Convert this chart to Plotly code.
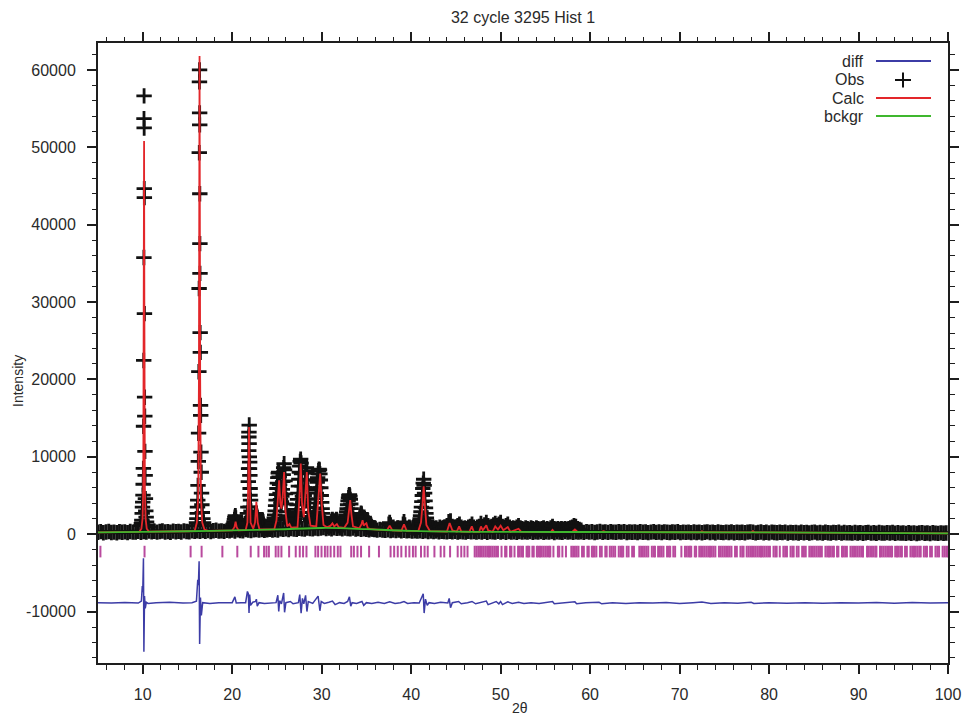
import plotly.graph_objects as go

# ------------------------------------------------------------------ data
# background (bckgr)
bckgr_tth = [5, 10, 15, 20, 25, 30, 32, 35, 40, 45, 50, 60, 70, 80, 90, 100]
bckgr_int = [230, 300, 380, 480, 620, 800, 780, 650, 420, 320, 290, 280, 250, 220, 170, 110]

# observed intensities, coarse scan over the whole range (start 5.0, step 0.3)
obs_scan_start = 5.0
obs_scan_step = 0.3
obs_scan_int = [
    250, 330, 190, 280, 340, 210, 270, 180, 320, 240, 300, 200, 350, 260, 290, 380, 240, 330, 270, 410,
    300, 380, 260, 350, 410, 290, 330, 250, 390, 320, 360, 280, 420, 340, 300, 450, 380, 420, 360, 470,
    380, 470, 350, 440, 500, 390, 430, 360, 490, 450, 520, 410, 560, 480, 440, 600, 520, 470, 560, 600,
    520, 610, 490, 580, 640, 540, 600, 530, 680, 620, 700, 590, 740, 660, 620, 760, 700, 650, 780, 720,
    690, 800, 720, 780, 850, 730, 790, 700, 820, 760, 800, 690, 790, 730, 700, 780, 660, 720, 640, 700,
    630, 560, 650, 590, 520, 610, 540, 500, 580, 480, 540, 460, 520, 440, 500, 420, 480, 400, 450, 390,
    440, 370, 420, 350, 400, 330, 390, 310, 370, 340, 300, 380, 320, 360, 290, 350, 310, 280, 360, 300,
    330, 260, 350, 290, 380, 250, 340, 300, 270, 360, 290, 330, 250, 340, 280, 310, 240, 330, 280, 300,
    260, 330, 230, 310, 280, 350, 240, 300, 270, 340, 220, 310, 290, 250, 330, 270, 300, 240, 320, 260,
    300, 230, 330, 260, 310, 220, 290, 340, 250, 300, 230, 320, 270, 240, 310, 260, 330, 220, 290, 250,
    280, 220, 310, 240, 290, 200, 270, 320, 230, 280, 210, 300, 250, 220, 290, 240, 310, 200, 270, 230,
    260, 200, 290, 220, 270, 190, 250, 300, 210, 260, 190, 280, 230, 200, 270, 220, 290, 180, 250, 210,
    240, 180, 270, 300, 250, 170, 230, 280, 190, 240, 170, 260, 210, 180, 250, 200, 270, 160, 230, 190,
    220, 160, 250, 180, 230, 150, 210, 260, 170, 220, 150, 240, 190, 160, 230, 180, 250, 140, 210, 170,
    190, 130, 220, 150, 200, 120, 180, 230, 140, 190, 120, 210, 160, 130, 200, 150, 220, 110, 180, 140,
    160, 100, 190, 120, 170, 90, 150, 200, 110, 160, 90, 180, 130, 100, 170, 120, 150,
]

# fine scans across the peak groups (step 0.05 deg unless noted)
obs_fine_a_start = 19.80
obs_fine_a_int = [
    600, 800, 700, 900, 800, 1000, 1100, 1300, 1600, 1900, 2200, 2400, 2100, 1600, 1200, 1000, 900, 1100,
    800, 900, 700, 900, 800, 700, 900, 800, 900, 1000, 800, 900, 1000, 900, 1100, 1000, 1200, 1300,
    1500, 1900, 2700, 3500, 6800, 10800, 14100, 9300, 5900, 4400, 3000, 2200, 1800, 1500, 1300, 1200,
    1400, 1500, 1900, 2200, 2500, 2700, 2600, 2400, 2100, 1900, 1700, 1500, 1400, 1600, 1300, 1200,
    1400, 1100, 1200, 1000, 1100, 900, 1000, 900, 1000, 800, 900, 800, 900, 700, 800, 700, 800, 700,
    900, 800, 900, 1000, 900, 1100,
]
obs_fine_b_start = 24.40
obs_fine_b_int = [
    1100, 1300, 1200, 1500, 1400, 1800, 2100, 2500, 3000, 3700, 4400, 5100, 5900, 6600, 7300, 7900,
    8000, 7400, 6400, 5300, 4500, 4000, 4200, 4900, 5800, 6800, 7700, 8600, 9100, 8300, 6900, 5200,
    3900, 2900, 2300, 2000, 1800, 1900, 2100, 2400, 2200, 1900, 1700, 1600, 1500, 1400, 1500, 1600,
    1400, 1700, 1600, 1800, 2000, 2300, 2500, 2800, 3200, 3800, 4500, 5300, 6200, 7100, 8000, 8800,
    9400, 9700, 9200, 7800, 6200, 4900, 4100, 3800, 4200, 5000, 6000, 7000, 7900, 8500, 8600, 8100,
    7000, 5700, 4500, 3500, 2800, 2300, 2000, 1800, 1700, 1900, 2100, 2000, 1800, 1900, 2200, 2500,
    2900, 3400, 4000, 4600, 5300, 6000, 6700, 7300, 7800, 8200, 8400, 8300, 7800, 7000, 6000, 5000,
    4100, 3300, 2700, 2200, 1900, 1700, 1500, 1400, 1300, 1400, 1200, 1300, 1100, 1200, 1000, 1100,
    1200, 1000, 1100, 1200,
]
obs_fine_c_start = 31.00
obs_fine_c_int = [
    1200, 1400, 1600, 1800, 1900, 1700, 1500, 1300, 1200, 1400, 1600, 1700, 1800, 1900, 1800, 1600,
    1400, 1300, 1200, 1100, 1200, 1000, 1100, 1000, 1200, 1100, 1300, 1200, 1400, 1300, 1500, 1700,
    1600, 1900, 2200, 2500, 2900, 3300, 3800, 4300, 4700, 5000, 5100, 4900, 4500, 3900, 3300, 2700,
    2200, 1900, 1700, 1500, 1400, 1300, 1200, 1100, 1300, 1200, 1400, 1300, 1500, 1400, 1600, 1700,
    1900, 2100, 2300, 2500, 2700, 2600, 2300, 2000, 1800, 1900, 2100, 2200, 2000, 1800, 1600, 1400,
    1300, 1100, 1200, 1000, 1100, 900, 1000, 900, 1000, 800, 900, 800, 900, 800, 700, 800, 700, 800,
    700, 800, 700,
]
obs_fine_d_start = 40.60
obs_fine_d_int = [
    800, 900, 1000, 900, 1100, 1200, 1400, 1700, 2000, 2400, 2900, 3500, 4200, 5000, 5900, 6600, 7100,
    6300, 5300, 4300, 3400, 2700, 2100, 1700, 1400, 1200, 1000, 1100, 900, 1000, 800, 900, 800,
]
obs_fine_step = 0.05
obs_fine_e_start = 42.2          # step 0.2
obs_fine_e_step = 0.2
obs_fine_e_int = [
    700, 900, 700, 800, 600, 900, 700, 800, 900, 1100, 1600, 1700, 1000, 800, 900, 1100, 1300, 900,
    700, 800, 700, 900, 1000, 1300, 900, 700, 900, 1000, 1400, 1000, 1200, 1500, 1100, 900, 1000,
    1200, 1400, 1100, 1300, 1500, 1000, 900, 1100, 1300, 900, 700, 800, 700, 900, 1100, 800, 700,
    600, 800, 700, 600, 800, 700, 600, 800, 700, 600, 700, 800, 600, 700, 600, 800, 1000, 700, 600,
    700, 600, 700, 600, 700, 600, 700, 800, 900, 1100, 1000, 700, 600, 500,
]

# individual observed points forming the tall peak columns
obs_peak_tth = [
    9.80, 9.85, 9.90, 9.94, 9.97, 10.00, 10.03, 10.05, 10.07, 10.09, 10.11, 10.13, 10.14, 10.15, 10.16,
    10.17, 10.18, 10.19, 10.21, 10.23, 10.25, 10.27, 10.30, 10.34, 10.38, 10.43, 10.50, 10.60,
    15.95, 16.00, 16.05, 16.09, 16.12, 16.15, 16.18, 16.21, 16.24, 16.27, 16.30, 16.32, 16.34, 16.35,
    16.36, 16.37, 16.38, 16.39, 16.40, 16.42, 16.44, 16.46, 16.48, 16.51, 16.54, 16.57, 16.61, 16.66,
    16.72, 16.80, 16.90,
    21.83, 21.86, 21.87, 21.89, 21.91, 21.93, 21.97, 21.99, 22.02,
    37.50, 37.60, 37.70, 38.00, 38.50, 39.10, 39.20, 39.30, 39.80, 40.20,
]
obs_peak_int = [
    1100, 1400, 1800, 2700, 3500, 4150, 5050, 6450, 8500, 13950, 22450, 35750, 53700, 56650, 52500,
    44650, 43500, 28500, 17700, 15250, 10700, 7600, 4600, 3000, 2200, 1600, 1200, 900,
    1100, 1500, 2000, 2700, 3500, 4400, 6300, 9400, 13050, 21000, 31750, 49300, 58450, 60000,
    54450, 52900, 44000, 37550, 33700, 26050, 23500, 16650, 15350, 10600, 8000, 5300, 3800, 2800,
    2000, 1500, 1100,
    8480, 12560, 13200, 11700, 9980, 8480, 7610, 5030, 3530,
    1300, 1500, 1200, 900, 800, 1300, 1600, 1200, 900, 800,
]

# calculated profile (Calc)
calc_tth = [
    5.0, 9.0, 9.6, 9.85, 9.98, 10.06, 10.12, 10.15, 10.18, 10.24, 10.32, 10.45, 10.7,
    15.0, 15.8, 16.05, 16.2, 16.28, 16.35, 16.42, 16.5, 16.65, 16.9, 17.3,
    20.0, 20.25, 20.38, 20.5, 20.7, 21.5, 21.7, 21.8, 21.88, 21.96, 22.05, 22.35, 22.55, 22.7, 22.85, 23.05,
    24.7, 24.95, 25.1, 25.24, 25.38, 25.5, 25.65, 25.8, 25.95, 26.15, 26.4, 26.6, 27.3, 27.5, 27.66, 27.8,
    28.0, 28.2, 28.34, 28.5, 28.75, 29.4, 29.6, 29.83, 30.0, 30.2, 30.6, 31.0, 31.2, 31.4, 31.7, 31.9,
    32.5, 32.9, 33.05, 33.19, 33.33, 33.5, 34.2, 34.45, 34.57, 34.7, 34.85, 35.0, 35.15, 35.5,
    37.3, 37.6, 37.9, 38.9, 39.2, 39.5, 40.8, 41.1, 41.25, 41.4, 41.55, 41.7, 42.1,
    44.0, 44.3, 44.6, 45.1, 45.36, 45.6, 46.5, 46.78, 47.0, 47.6, 47.8, 48.0, 48.4, 48.6, 49.1, 49.4,
    49.7, 50.0, 50.3, 50.8, 51.1, 52.0, 52.3, 55.6, 55.8, 56.0, 58.0, 58.3, 58.6, 61.2, 61.5, 61.8,
    72.3, 72.5, 72.7, 78.0, 78.2, 78.4, 100.0,
]
calc_int = [
    230, 280, 290, 700, 2000, 6000, 30000, 50800, 30000, 6000, 2000, 700, 320,
    380, 400, 1500, 5000, 20000, 61800, 20000, 5000, 1500, 600, 420,
    480, 900, 1600, 900, 500, 520, 1500, 7000, 13850, 7000, 1500, 700, 1500, 4170, 1500, 620,
    620, 1800, 5000, 6970, 4000, 3300, 5000, 8040, 3000, 1000, 1300, 850, 900, 4500, 9120, 4000,
    2200, 5000, 8040, 3000, 1100, 1000, 4000, 7830, 4000, 1200, 900, 1100, 1400, 1000, 1300, 900,
    800, 1500, 3000, 4390, 2500, 1000, 750, 1300, 1810, 1100, 1300, 1420, 800, 640,
    500, 1100, 490, 440, 1270, 420, 410, 1500, 3500, 6190, 3500, 1200, 390,
    330, 1440, 500, 320, 1000, 320, 310, 1000, 310, 300, 1000, 500, 1140, 500, 300, 1000,
    600, 1100, 500, 930, 290, 700, 290, 285, 550, 285, 282, 600, 282, 278, 400, 276,
    248, 380, 248, 226, 400, 226, 110,
]

# difference curve (Obs - Calc, offset)
diff_tth = [
    5.0, 6.5, 8.0, 9.5, 9.85, 9.95, 10.0, 10.08, 10.13, 10.2, 10.28, 10.4, 10.6, 11.5, 13.0, 14.5,
    15.5, 16.0, 16.15, 16.22, 16.3, 16.36, 16.45, 16.55, 16.7, 17.5, 18.5, 19.5, 20.0, 20.3, 20.45,
    21.0, 21.5, 21.7, 21.8, 21.88, 21.95, 22.05, 22.3, 22.6, 22.7, 22.8, 23.0, 23.6, 24.3, 24.9,
    25.1, 25.2, 25.3, 25.5, 25.75, 25.85, 26.0, 26.5, 26.8, 27.4, 27.55, 27.7, 27.85, 28.0, 28.2,
    28.35, 28.5, 29.0, 29.6, 29.8, 29.95, 30.3, 30.8, 31.2, 31.5, 32.0, 32.5, 32.9, 33.1, 33.25,
    33.4, 33.9, 34.5, 34.7, 35.0, 35.6, 36.3, 37.0, 37.6, 38.2, 38.8, 39.2, 39.6, 40.3, 40.9, 41.2,
    41.35, 41.45, 41.6, 41.8, 42.0, 42.6, 43.3, 44.1, 44.25, 44.4, 44.6, 45.3, 45.6, 46.3, 46.8,
    47.2, 47.8, 48.4, 48.6, 49.2, 49.5, 49.8, 50.0, 50.2, 50.8, 51.3, 52.0, 52.6, 53.4, 54.3, 55.0,
    55.8, 56.0, 57.0, 58.3, 58.5, 59.5, 61.0, 61.3, 62.5, 64.0, 65.5, 67.0, 68.5, 70.0, 71.5, 72.5,
    73.5, 75.0, 76.5, 78.0, 78.3, 80.0, 82.0, 84.0, 86.0, 88.0, 90.0, 92.0, 94.0, 96.0, 98.0, 100.0,
]
diff_int = [
    -8850, -8900, -8820, -8900, -8650, -6700, -7500, -3100, -15200, -8000, -9600, -8800, -8950, -8850,
    -8800, -8900, -8850, -8650, -5900, -6600, -3500, -14200, -8200, -10500, -8850, -8950, -8850,
    -8900, -8850, -8100, -8900, -8850, -8850, -7400, -7700, -10200, -7800, -9200, -8800, -8700,
    -8400, -9300, -8850, -8950, -8850, -8850, -7900, -10000, -8600, -9000, -7600, -10100, -8850,
    -8700, -9000, -8850, -7800, -10200, -8300, -9000, -7900, -10000, -8700, -8950, -8000, -9900,
    -8700, -8950, -8800, -8650, -9100, -8850, -8950, -8700, -8100, -9300, -8850, -8950, -8700,
    -9200, -8850, -8950, -8800, -8950, -8750, -8950, -8850, -8700, -8950, -8850, -8900, -8000,
    -7700, -10200, -8400, -9200, -8850, -8950, -8800, -8900, -8300, -9500, -8850, -8700, -9000,
    -8850, -8700, -9000, -8800, -8650, -9100, -8850, -8700, -9000, -8700, -9100, -8750, -8950,
    -8800, -8950, -8850, -8950, -8850, -8700, -9000, -8850, -8750, -9000, -8850, -8800, -9000,
    -8850, -8950, -8850, -8900, -8820, -8950, -8850, -8780, -8950, -8850, -8920, -8800, -8950,
    -8850, -8920, -8850, -8930, -8850, -8900, -8840, -8920, -8820, -8900, -8850,
]

# reflection positions (hkl tick marks)
hkl_tth = [
    5.27, 10.2, 15.35, 16.58, 18.9, 20.57, 22.07, 22.93, 23.56, 23.83, 24.1, 24.86, 25.16, 25.5,
    26.36, 27.1, 27.55, 27.92, 28.3, 29.3, 29.6, 29.98, 30.36, 30.65, 31.0, 31.4, 31.8, 32.1,
    33.3, 33.6, 34.0, 34.4, 35.3, 36.4, 37.7, 38.1, 38.5, 38.9, 39.4, 39.8, 40.2, 40.5, 41.1,
    41.5, 41.85, 42.6, 43.3, 43.7, 44.35, 45.2, 45.6, 45.95, 46.3,
    47.1, 47.3, 47.5, 47.7, 47.9, 48.1, 48.3, 48.5, 48.7, 48.9, 49.1, 49.3, 49.5, 49.7, 50.1,
    50.5, 50.65, 51.05, 51.2, 51.55, 51.95, 52.1, 52.3, 52.5, 52.9, 53.05, 53.2, 53.55, 53.7,
    54.05, 54.2, 54.4, 54.6, 54.8, 55.0, 55.2, 55.4, 55.55, 55.9, 56.4, 56.55, 56.9, 57.3,
    57.9, 58.1, 58.3, 58.5, 58.7, 59.1, 59.3, 59.7, 59.85, 60.2, 60.35, 60.5, 60.7, 61.1, 61.3,
    61.7, 61.85, 62.2, 62.4, 62.6, 62.8, 63.2, 63.4, 63.55, 63.7, 64.1, 64.3, 64.7, 64.9, 65.5,
    65.7, 65.9, 66.1, 66.3, 66.5, 66.9, 67.1, 67.25, 67.6, 67.8, 68.0, 68.2, 68.6, 68.8, 68.95,
    69.3, 69.5, 70.2, 70.6, 70.8, 71.0, 71.15, 71.3, 71.7, 71.85, 72.2, 72.4, 72.6, 72.8, 73.0,
    73.2, 73.4, 73.6, 73.8, 74.0, 74.4, 74.6, 74.8, 75.0, 75.2, 75.4, 75.6, 75.8, 76.2, 76.4,
    76.8, 77.0, 77.15, 77.5, 77.7, 77.9, 78.1, 78.3, 78.5, 78.7, 78.9, 79.1, 79.3, 79.5, 79.7,
    79.9, 80.1, 80.5, 80.7, 80.85, 81.2, 81.6, 81.8, 82.0, 82.4, 82.6, 82.75, 83.1, 83.3, 83.7,
    83.9, 84.1, 84.5, 84.7, 84.9, 85.1, 85.3, 85.5, 85.7, 85.9, 86.3, 86.5, 86.7, 86.9, 87.1,
    87.25, 87.6, 87.75, 88.15, 88.3, 88.5, 88.7, 89.1, 89.3, 89.5, 89.7, 89.9, 90.1, 90.3, 90.5,
    90.95, 91.1, 91.3, 91.5, 91.7, 91.9, 92.0, 92.4, 92.6, 92.8, 93.0, 93.2, 93.4, 93.6, 93.75,
    94.1, 94.3, 94.5, 94.7, 94.85, 95.2, 95.4, 95.8, 96.0, 96.2, 96.4, 96.6, 96.8, 96.95, 97.3,
    97.5, 97.65, 98.0, 98.2, 98.6, 98.8, 99.0, 99.4, 99.6, 99.8, 100.0,
]
hkl_level = -2250

# axis ticks
x_tickvals = [10, 20, 30, 40, 50, 60, 70, 80, 90, 100]
y_tickvals = [-10000, 0, 10000, 20000, 30000, 40000, 50000, 60000]
y_ticktext = ["-10000", "0", "10000", "20000", "30000", "40000", "50000", "60000"]

legend_names = ["diff", "Obs", "Calc", "bckgr"]

# ------------------------------------------------------------------ styles
C_OBS = "#111111"
C_CALC = "#e3262a"
C_BG = "#3fb72e"
C_DIFF = "#3c3ca6"
C_HKL = "#b94a9e"
C_TXT = "#2a2a2a"
FONT = "Liberation Sans, Arial, Helvetica, sans-serif"


def scan(start, step, values):
    return [round(start + i * step, 3) for i in range(len(values))]


obs_tth = (scan(obs_scan_start, obs_scan_step, obs_scan_int)
           + scan(obs_fine_a_start, obs_fine_step, obs_fine_a_int)
           + scan(obs_fine_b_start, obs_fine_step, obs_fine_b_int)
           + scan(obs_fine_c_start, obs_fine_step, obs_fine_c_int)
           + scan(obs_fine_d_start, obs_fine_step, obs_fine_d_int)
           + scan(obs_fine_e_start, obs_fine_e_step, obs_fine_e_int)
           + obs_peak_tth)
obs_int = (obs_scan_int + obs_fine_a_int + obs_fine_b_int + obs_fine_c_int
           + obs_fine_d_int + obs_fine_e_int + obs_peak_int)

fig = go.Figure()
fig.add_trace(go.Scatter(
    x=obs_tth, y=obs_int, mode="markers", name="Obs",
    marker=dict(symbol="cross-thin", size=11, color=C_OBS,
                line=dict(color=C_OBS, width=2.8)),
))
fig.add_trace(go.Scatter(
    x=calc_tth, y=calc_int, mode="lines", name="Calc",
    line=dict(color=C_CALC, width=1.8),
))
fig.add_trace(go.Scatter(
    x=bckgr_tth, y=bckgr_int, mode="lines", name="bckgr",
    line=dict(color=C_BG, width=1.8, shape="spline"),
))
fig.add_trace(go.Scatter(
    x=hkl_tth, y=[hkl_level] * len(hkl_tth), mode="markers", name="hkl",
    marker=dict(symbol="line-ns", size=8.3, color=C_HKL,
                line=dict(color=C_HKL, width=2)),
))
fig.add_trace(go.Scatter(
    x=diff_tth, y=diff_int, mode="lines", name="diff",
    line=dict(color=C_DIFF, width=1.5),
))

# ------------------------------------------------------------------ layout
L, R, T, B = 98, 18, 43, 56
W, H = 966, 719
PW, PH = W - L - R, H - T - B


def xp(px):
    return (px - L) / PW


def yp(py):
    return (H - B - py) / PH


axis_common = dict(
    showline=True, linewidth=2, linecolor="#1e1e1e", mirror="ticks",
    ticks="outside", ticklen=9, tickwidth=1.6, tickcolor="#1e1e1e",
    showgrid=False, zeroline=False, automargin=False,
    tickfont=dict(family=FONT, size=16, color=C_TXT),
)

fig.update_layout(
    width=W, height=H,
    margin=dict(l=L, r=R, t=T, b=B, pad=0, autoexpand=False),
    paper_bgcolor="white", plot_bgcolor="white",
    showlegend=False,
    font=dict(family=FONT, color=C_TXT),
    title=dict(text="32 cycle 3295 Hist 1", x=0.5, xref="paper", xanchor="center",
               y=1 - 17 / H, yref="container", yanchor="middle",
               font=dict(family=FONT, size=16, color=C_TXT)),
    xaxis=dict(
        range=[5, 100], tickmode="array", tickvals=x_tickvals,
        minor=dict(tickmode="linear", tick0=0, dtick=2, ticklen=4.5, tickwidth=1.4,
                   tickcolor="#1e1e1e", ticks="outside"),
        ticklabelstandoff=7,
        **axis_common,
    ),
    yaxis=dict(
        range=[-16650, 63480], tickmode="array", tickvals=y_tickvals, ticktext=y_ticktext,
        minor=dict(tickmode="linear", tick0=0, dtick=2000, ticklen=4.5, tickwidth=1.4,
                   tickcolor="#1e1e1e", ticks="outside"),
        ticklabelstandoff=8,
        **axis_common,
    ),
)

# axis titles
fig.add_annotation(x=xp(18), y=yp(381), xref="paper", yref="paper", text="Intensity",
                   textangle=-90, showarrow=False, xanchor="center", yanchor="middle",
                   font=dict(family=FONT, size=14, color=C_TXT))
fig.add_annotation(x=xp(520), y=yp(708), xref="paper", yref="paper", text="2θ",
                   showarrow=False, xanchor="center", yanchor="middle",
                   font=dict(family=FONT, size=14, color=C_TXT))

# ------------------------------------------------------------------ legend (text left of symbol)
leg_rows = [61, 79.5, 98, 116]
leg_colors = [C_DIFF, None, C_CALC, C_BG]
for name, py, col in zip(legend_names, leg_rows, leg_colors):
    fig.add_annotation(x=xp(866), y=yp(py), xref="paper", yref="paper", text=name,
                       showarrow=False, xanchor="right", yanchor="middle",
                       font=dict(family=FONT, size=16, color=C_TXT))
    if col is not None:
        fig.add_shape(type="line", xref="paper", yref="paper",
                      x0=xp(876), x1=xp(931), y0=yp(py), y1=yp(py),
                      line=dict(color=col, width=2))
    else:
        cx, cy = 903, py + 0.5
        fig.add_shape(type="line", xref="paper", yref="paper",
                      x0=xp(cx - 8), x1=xp(cx + 8), y0=yp(cy), y1=yp(cy),
                      line=dict(color=C_OBS, width=2))
        fig.add_shape(type="line", xref="paper", yref="paper",
                      x0=xp(cx), x1=xp(cx), y0=yp(cy - 7.5), y1=yp(cy + 7.5),
                      line=dict(color=C_OBS, width=2))

fig.write_html("out.html")
